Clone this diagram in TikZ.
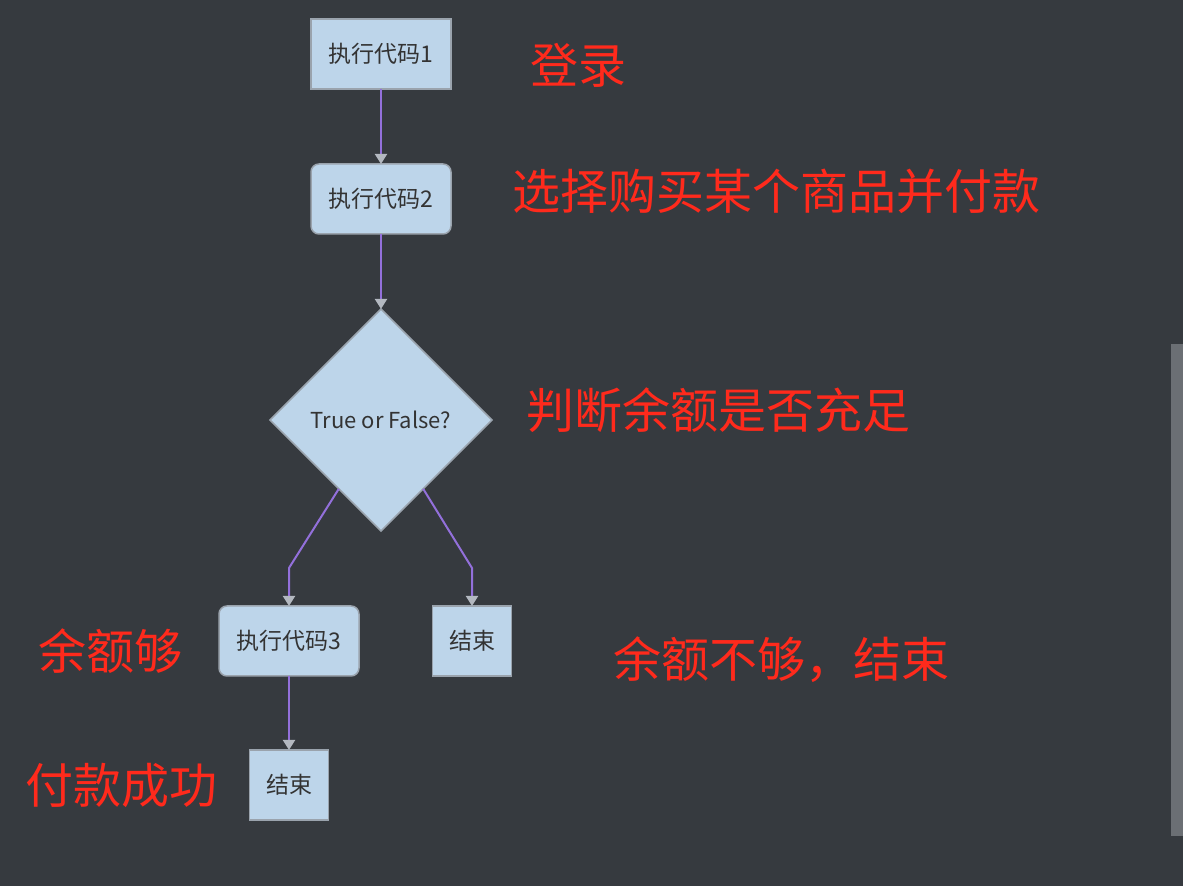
\documentclass[tikz,border=0pt]{standalone}
\usepackage{fontspec}
\setmainfont{Noto Sans CJK SC}
\usepackage{xcolor}
\usepackage{tikz}
\usetikzlibrary{arrows.meta, shapes, positioning, calc}
\definecolor{bgcolor}{HTML}{363A3F}
\definecolor{boxcolor}{HTML}{BDD5EA}
\definecolor{linecolor}{HTML}{9AA3AD}
\definecolor{edgecolor}{HTML}{9370DB}
\definecolor{tipcolor}{HTML}{B3B8C0}
\definecolor{notecolor}{HTML}{FF2A1C}
\definecolor{barcolor}{HTML}{6B6F74}

\begin{document}
\begin{tikzpicture}[
  proc/.style={draw=linecolor, line width=0.75pt, fill=boxcolor,
               minimum width=70pt, minimum height=35pt, inner sep=0pt,
               outer sep=0pt,
               font=\fontsize{11.5pt}{13pt}\selectfont, text=black!80},
  rproc/.style={proc, rounded corners=4pt},
  endbox/.style={proc, minimum width=39.5pt},
  decide/.style={draw=linecolor, line width=0.75pt, fill=boxcolor, diamond,
                 aspect=1, minimum size=111pt, inner sep=0pt, outer sep=0pt,
                 font=\fontsize{11pt}{13pt}\selectfont, text=black!80},
  note/.style={anchor=west, inner sep=0pt, text=notecolor,
               font=\fontsize{24pt}{28pt}\selectfont},
  arrow/.style={-{Triangle[length=5pt, width=6pt, color=tipcolor]},
                draw=edgecolor, line width=1pt},
]

%% Background
\fill[bgcolor] (0,0) rectangle (591.5pt,-443pt);
\fill[barcolor] (585.5pt,-172pt) rectangle (591.5pt,-418pt);

%% Flow
\node[proc] (code1) at (190.5pt,-27pt) {执行代码1};
\node[rproc, below=37.5pt of code1] (code2) {执行代码2};
\node[decide, below=37.5pt of code2] (check) {True or False?};
\node[rproc, below=37.5pt of check, xshift=-46pt] (code3) {执行代码3};
\node[endbox, below=37.5pt of check, xshift=45.5pt] (stopno) {结束};
\node[endbox, below=37pt of code3] (stopok) {结束};

%% Notes
\node[note] (login) at (265pt,-32.5pt) {登录};
\node[note] (buy)   at (256pt,-95.5pt) {选择购买某个商品并付款};
\node[note] (judge) at (263pt,-205pt) {判断余额是否充足};
\node[note] (enough) at (19pt,-325.5pt) {余额够};
\node[note] (short) at (306.5pt,-330pt) {余额不够，结束};
\node[note] (paid)  at (12.5pt,-392.5pt) {付款成功};

%% Arrows
\draw[arrow] (code1) -- (code2);
\draw[arrow] (code2) -- (check);
\draw[arrow] ($(check.west)!0.62!(check.south)$) -- ([yshift=19pt]code3.north) -- (code3.north);
\draw[arrow] ($(check.east)!0.62!(check.south)$) -- ([yshift=19pt]stopno.north) -- (stopno.north);
\draw[arrow] (code3) -- (stopok);

\end{tikzpicture}
\end{document}
